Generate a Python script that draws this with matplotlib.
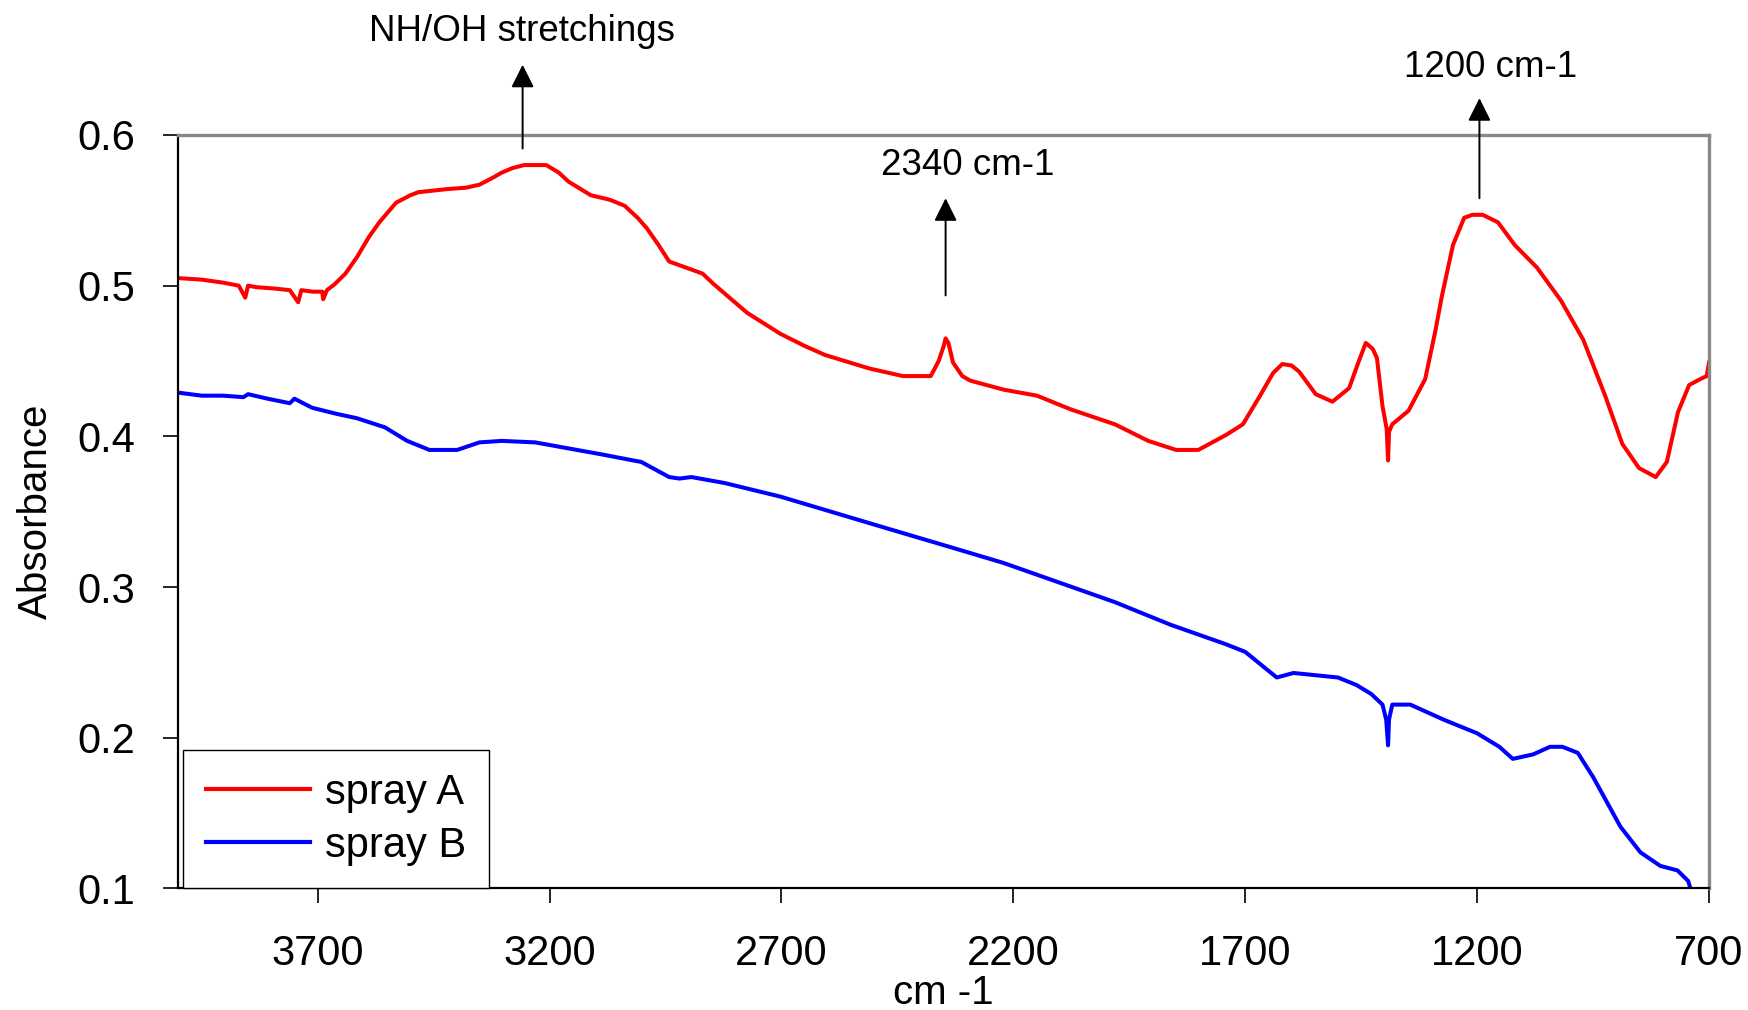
from matplotlib import pyplot as plt

plt.rcParams['font.family'] = ['Liberation Sans', 'DejaVu Sans']

# IR spectra: spray A and spray B

wn_a = [4000, 3950, 3904, 3870, 3856, 3850, 3832, 3790, 3760, 3742, 3735, 3710, 3690, 3688, 3680,
        3663, 3640, 3615, 3590, 3567, 3531, 3500, 3483, 3423, 3380, 3351, 3320, 3303, 3280, 3255,
        3207, 3180, 3159, 3111, 3070, 3038, 3010, 2990, 2965, 2942, 2906, 2870, 2846, 2774, 2702,
        2650, 2606, 2510, 2438, 2378, 2361, 2350, 2346, 2340, 2330, 2310, 2293, 2221, 2149, 2077,
        1981, 1909, 1849, 1801, 1741, 1705, 1668, 1640, 1620, 1600, 1584, 1548, 1512, 1476, 1455,
        1440, 1425, 1416, 1404, 1395, 1392, 1390, 1383, 1348, 1312, 1290, 1276, 1252, 1228, 1210,
        1188, 1155, 1119, 1071, 1019, 971, 924, 887, 851, 815, 791, 767, 743, 719, 705, 700]
abs_a = [0.505, 0.504, 0.502, 0.500, 0.492, 0.500, 0.499, 0.498, 0.497, 0.489, 0.497, 0.496, 0.496, 0.491, 0.497,
         0.501, 0.508, 0.519, 0.532, 0.542, 0.555, 0.560, 0.562, 0.564, 0.565, 0.567, 0.572, 0.575, 0.578, 0.580,
         0.580, 0.575, 0.569, 0.560, 0.557, 0.553, 0.545, 0.538, 0.527, 0.516, 0.512, 0.508, 0.501, 0.482, 0.468,
         0.460, 0.454, 0.445, 0.440, 0.440, 0.450, 0.460, 0.465, 0.462, 0.449, 0.440, 0.437, 0.431, 0.427, 0.418,
         0.408, 0.397, 0.391, 0.391, 0.401, 0.408, 0.427, 0.442, 0.448, 0.447, 0.443, 0.428, 0.423, 0.432, 0.450,
         0.462, 0.458, 0.452, 0.420, 0.405, 0.384, 0.403, 0.408, 0.417, 0.438, 0.470, 0.493, 0.527, 0.545, 0.547,
         0.547, 0.542, 0.527, 0.512, 0.490, 0.464, 0.427, 0.395, 0.379, 0.373, 0.383, 0.416, 0.434, 0.438, 0.440, 0.449]

wn_b = [4000, 3950, 3904, 3860, 3850, 3808, 3760, 3750, 3712, 3660, 3615, 3555, 3507, 3459, 3399,
        3351, 3303, 3231, 3159, 3087, 3002, 2960, 2942, 2920, 2894, 2822, 2702, 2582, 2462, 2341,
        2221, 2101, 1981, 1861, 1741, 1700, 1668, 1632, 1596, 1500, 1460, 1428, 1404, 1396, 1392,
        1390, 1383, 1344, 1272, 1200, 1152, 1123, 1079, 1043, 1016, 983, 950, 891, 848, 805,
        768, 745, 740]
abs_b = [0.429, 0.427, 0.427, 0.426, 0.428, 0.425, 0.422, 0.425, 0.419, 0.415, 0.412, 0.406, 0.397, 0.391, 0.391,
         0.396, 0.397, 0.396, 0.392, 0.388, 0.383, 0.376, 0.373, 0.372, 0.373, 0.369, 0.360, 0.349, 0.338, 0.327,
         0.316, 0.303, 0.290, 0.275, 0.262, 0.257, 0.249, 0.240, 0.243, 0.240, 0.235, 0.229, 0.222, 0.212, 0.195,
         0.212, 0.222, 0.222, 0.212, 0.203, 0.194, 0.186, 0.189, 0.194, 0.194, 0.190, 0.174, 0.141, 0.124, 0.115,
         0.112, 0.105, 0.100]

# annotations: label, wavenumber of the arrow
notes = ["NH/OH stretchings", "2340 cm-1", "1200 cm-1"]
note_wn = [3258, 2346, 1195]

fig = plt.figure(figsize=(17.48, 10.10), dpi=100)
ax = fig.add_axes([0.1021, 0.1203, 0.8756, 0.7461])

ax.plot(wn_a, abs_a, color='#ff0000', lw=2.9, label='spray A')
ax.plot(wn_b, abs_b, color='#0000ff', lw=2.9, label='spray B')

ax.set_xlim(4000, 700)
ax.set_ylim(0.1, 0.6)
ax.set_xticks([3700, 3200, 2700, 2200, 1700, 1200, 700])
ax.set_yticks([0.1, 0.2, 0.3, 0.4, 0.5, 0.6])
ax.set_yticklabels(['0.1', '0.2', '0.3', '0.4', '0.5', '0.6'])
ax.tick_params(axis='both', direction='out', length=11, width=1.2, labelsize=30, color='black')
ax.tick_params(axis='y', pad=20)
ax.tick_params(axis='x', pad=22)

ax.spines['left'].set_color('black')
ax.spines['bottom'].set_color('black')
ax.spines['left'].set_linewidth(1.6)
ax.spines['bottom'].set_linewidth(1.6)
ax.spines['top'].set_color('#888888')
ax.spines['right'].set_color('#888888')
ax.spines['top'].set_linewidth(2.4)
ax.spines['right'].set_linewidth(2.4)

ax.set_ylabel("Absorbance", fontsize=29, labelpad=16)
ax.set_xlabel("cm -1", fontsize=29, labelpad=0)

# arrows with labels
arrow_tail = [0.591, 0.4935, 0.558]
arrow_tip = [0.6466, 0.558, 0.6244]
text_pos = [(3260, 0.6688), (2298, 0.580), (1171, 0.645)]
for label, x, y0, y1, (tx, ty) in zip(notes, note_wn, arrow_tail, arrow_tip, text_pos):
    ax.annotate('', xy=(x, y1), xytext=(x, y0), annotation_clip=False,
                arrowprops=dict(arrowstyle='-|>,head_length=0.7,head_width=0.35', mutation_scale=20,
                                color='black', lw=1.4, shrinkA=0, shrinkB=0))
    ax.text(tx, ty, label, fontsize=26.5, ha='center', va='center', clip_on=False)

leg = ax.legend(loc='lower left', bbox_to_anchor=(0.003, 0.0), borderaxespad=0, fontsize=30,
                fancybox=False, edgecolor='black', framealpha=1, handlelength=2.5,
                handletextpad=0.35, labelspacing=0.3, borderpad=0.55)
leg.get_frame().set_linewidth(1.0)
for line in leg.get_lines():
    line.set_linewidth(3)

fig.savefig('out.png', dpi=100)
